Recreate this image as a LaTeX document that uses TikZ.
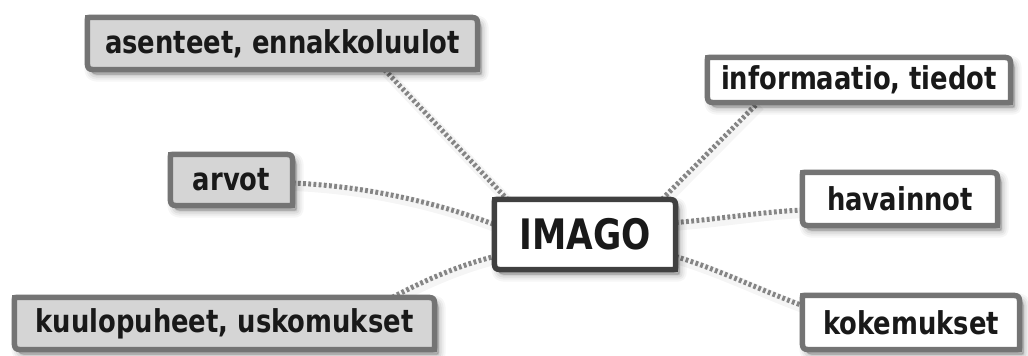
\documentclass[tikz,border=0pt]{standalone}
\usepackage{fontspec}
\newfontfamily\boxfont{DejaVu Sans}[FakeStretch=0.82]
\usetikzlibrary{calc}
\pgfdeclarelayer{bg}
\pgfdeclarelayer{mid}
\pgfsetlayers{bg,mid,main}
\definecolor{bordergray}{HTML}{747474}
\definecolor{darkborder}{HTML}{404040}
\definecolor{boxgray}{HTML}{D5D5D5}
\definecolor{linkgray}{HTML}{858585}
\tikzset{
  label/.style={inner sep=0pt, text=black!90, font=\boxfont\bfseries\fontsize{31.5}{38}\selectfont},
  centrelabel/.style={label, font=\boxfont\bfseries\fontsize{42}{50}\selectfont},
  link/.style={draw=linkgray, line width=5pt, dash pattern=on 2.8pt off 2.4pt},
  linkshadow/.style={draw=black, opacity=0.04, line width=10pt, transform canvas={shift={(2pt,-3pt)}}},
}
% rounded-on-two-corners box path around node #1
\newcommand{\mmpath}[1]{([xshift=3pt]#1.north west) -- ([xshift=-12pt]#1.north east) .. controls (#1.north east) .. ([yshift=-12pt]#1.north east) -- ([yshift=3pt]#1.south east) .. controls (#1.south east) .. ([xshift=-3pt]#1.south east) -- ([xshift=12pt]#1.south west) .. controls (#1.south west) .. ([yshift=12pt]#1.south west) -- ([yshift=-3pt]#1.north west) .. controls (#1.north west) .. ([xshift=3pt]#1.north west) -- cycle}
\newcommand{\mmbox}[3]{%
  \begin{pgfonlayer}{mid}
    \foreach \w/\o in {14/0.035,10/0.045,6/0.06,2/0.08}{
      \path[draw=black, fill=black, opacity=\o, line width=\w pt, line join=round,
            transform canvas={shift={(4pt,-5pt)}}] \mmpath{#1};
    }
    \path[draw=#3, fill=#2, line width=5.5pt] \mmpath{#1};
  \end{pgfonlayer}}
\begin{document}
\begin{tikzpicture}[x=1pt,y=-1pt]
\useasboundingbox (0,0) rectangle (1028,356);
\begin{pgfonlayer}{bg}
\fill[white] (0,0) rectangle (1028,356);
\end{pgfonlayer}

\node[label, minimum width=390pt, minimum height=52pt] (A) at (282.5,43.5) {asenteet, ennakkoluulot};
\node[label, minimum width=303pt, minimum height=45pt] (I) at (859,80) {informaatio, tiedot};
\node[label, minimum width=122pt, minimum height=51pt] (R) at (231.5,180) {arvot};
\node[label, minimum width=195pt, minimum height=53pt] (H) at (900,199) {havainnot};
\node[centrelabel, minimum width=181pt, minimum height=70pt] (M) at (585,234.5) {IMAGO};
\node[label, minimum width=420pt, minimum height=52pt] (K) at (224.5,323.5) {kuulopuheet, uskomukset};
\node[label, minimum width=217pt, minimum height=54pt] (E) at (911,322.5) {kokemukset};

\mmbox{A}{boxgray}{bordergray}
\mmbox{I}{white}{bordergray}
\mmbox{R}{boxgray}{bordergray}
\mmbox{H}{white}{bordergray}
\mmbox{K}{boxgray}{bordergray}
\mmbox{E}{white}{bordergray}
\mmbox{M}{white}{darkborder}

\begin{pgfonlayer}{bg}
  \coordinate (a1) at ([xshift=102pt]A.south);
  \coordinate (m1) at ([xshift=13pt]M.north west);
  \coordinate (r1) at ([yshift=-3pt]R.east);
  \coordinate (m2) at ([yshift=10pt]M.west);
  \coordinate (k1) at ([xshift=168pt]K.north);
  \coordinate (m3) at ([yshift=-22pt]M.west);
  \coordinate (m4) at ([xshift=77pt]M.north);
  \coordinate (i1) at ([xshift=-101pt]I.south);
  \coordinate (m5) at ([yshift=12pt]M.east);
  \coordinate (h1) at ([yshift=-11pt]H.west);
  \coordinate (m6) at ([yshift=-22pt]M.east);
  \coordinate (e1) at ([yshift=17pt]E.west);
  \foreach \s in {linkshadow, link}{
    \draw[\s] (a1) -- (m1);
    \draw[\s] (r1) .. controls (360,186) and (430,200) .. (m2);
    \draw[\s] (k1) .. controls (425,280) and (460,265) .. (m3);
    \draw[\s] (m4) -- (i1);
    \draw[\s] (m5) .. controls (720,219) and (760,212) .. (h1);
    \draw[\s] (m6) .. controls (720,270) and (760,290) .. (e1);
  }
\end{pgfonlayer}
\end{tikzpicture}
\end{document}
